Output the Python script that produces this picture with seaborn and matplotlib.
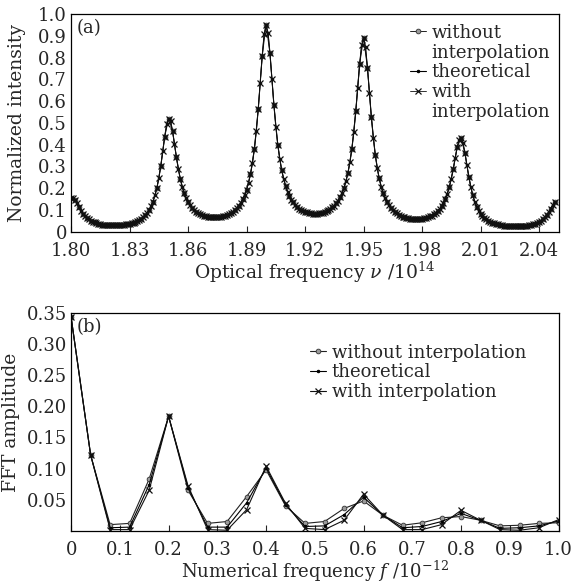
import numpy as np
import seaborn as sns
import matplotlib
matplotlib.use('Agg')
import matplotlib.pyplot as plt
from matplotlib.lines import Line2D

sns.set_style('ticks')
plt.rcParams['font.family'] = ['DejaVu Serif']
plt.rcParams['mathtext.fontset'] = 'dejavuserif'

# (a) intensidade normalizada, amostrada a cada 0.001 (x10^14) de 1.800 ate 2.048
seg1 = [0.155, 0.156, 0.147, 0.131, 0.114, 0.098, 0.084, 0.073, 0.064, 0.057,
        0.051, 0.046, 0.043, 0.040, 0.037, 0.035, 0.033, 0.032, 0.031, 0.030,
        0.030, 0.030, 0.030, 0.030, 0.030, 0.031, 0.031, 0.032, 0.034, 0.035,
        0.037, 0.040, 0.042, 0.046, 0.050, 0.054, 0.060, 0.067, 0.076, 0.087,
        0.100, 0.117, 0.139, 0.167, 0.202, 0.247, 0.303, 0.369, 0.437, 0.493]
seg2 = [0.520, 0.509, 0.464, 0.404, 0.343, 0.288, 0.243, 0.206, 0.177, 0.154,
        0.136, 0.121, 0.110, 0.100, 0.092, 0.086, 0.081, 0.077, 0.073, 0.071,
        0.069, 0.067, 0.067, 0.066, 0.066, 0.067, 0.068, 0.069, 0.071, 0.074,
        0.077, 0.082, 0.087, 0.093, 0.100, 0.109, 0.120, 0.133, 0.149, 0.169,
        0.194, 0.225, 0.265, 0.316, 0.381, 0.464, 0.566, 0.684, 0.806, 0.906]
seg3 = [0.950, 0.913, 0.819, 0.700, 0.584, 0.483, 0.400, 0.335, 0.283, 0.243,
        0.211, 0.185, 0.165, 0.148, 0.135, 0.123, 0.114, 0.107, 0.101, 0.096,
        0.092, 0.089, 0.087, 0.085, 0.084, 0.084, 0.084, 0.085, 0.086, 0.088,
        0.091, 0.095, 0.099, 0.105, 0.112, 0.120, 0.131, 0.143, 0.159, 0.178,
        0.202, 0.233, 0.271, 0.319, 0.381, 0.458, 0.553, 0.661, 0.771, 0.857]
seg4 = [0.890, 0.847, 0.753, 0.638, 0.527, 0.432, 0.354, 0.293, 0.246, 0.208,
        0.179, 0.156, 0.137, 0.122, 0.110, 0.100, 0.091, 0.085, 0.079, 0.074,
        0.070, 0.067, 0.065, 0.063, 0.061, 0.060, 0.059, 0.059, 0.059, 0.060,
        0.061, 0.063, 0.065, 0.068, 0.071, 0.075, 0.081, 0.087, 0.095, 0.105,
        0.117, 0.132, 0.152, 0.176, 0.206, 0.244, 0.288, 0.339, 0.388, 0.423]
seg5 = [0.430, 0.408, 0.362, 0.306, 0.252, 0.206, 0.168, 0.139, 0.116, 0.098,
        0.084, 0.073, 0.064, 0.057, 0.051, 0.046, 0.042, 0.039, 0.036, 0.034,
        0.032, 0.030, 0.029, 0.028, 0.027, 0.026, 0.026, 0.026, 0.026, 0.026,
        0.026, 0.027, 0.027, 0.028, 0.029, 0.031, 0.033, 0.035, 0.038, 0.042,
        0.046, 0.052, 0.059, 0.067, 0.078, 0.091, 0.107, 0.123, 0.139]
intensidade = seg1 + seg2 + seg3 + seg4 + seg5
nu = np.round(1.800 + 0.001 * np.arange(len(intensidade)), 3)

# (b) amplitude FFT
f_num = [0.00, 0.04, 0.08, 0.12, 0.16, 0.20, 0.24, 0.28, 0.32, 0.36, 0.40, 0.44, 0.48,
         0.52, 0.56, 0.60, 0.64, 0.68, 0.72, 0.76, 0.80, 0.84, 0.88, 0.92, 0.96, 1.00]
sem_interp = [0.343, 0.122, 0.010, 0.012, 0.083, 0.184, 0.065, 0.012, 0.015, 0.055, 0.098, 0.040, 0.012,
              0.015, 0.036, 0.048, 0.025, 0.009, 0.013, 0.021, 0.023, 0.017, 0.008, 0.009, 0.012, 0.013]
teorico = [0.343, 0.122, 0.005, 0.006, 0.074, 0.184, 0.069, 0.006, 0.006, 0.045, 0.101, 0.042, 0.007,
           0.008, 0.026, 0.054, 0.025, 0.005, 0.007, 0.015, 0.028, 0.017, 0.004, 0.005, 0.008, 0.016]
com_interp = [0.343, 0.122, 0.002, 0.002, 0.065, 0.184, 0.072, 0.002, 0.001, 0.034, 0.104, 0.044, 0.004,
              0.002, 0.017, 0.059, 0.025, 0.002, 0.002, 0.010, 0.033, 0.017, 0.002, 0.001, 0.005, 0.018]

rotulos = ['without interpolation', 'theoretical', 'with interpolation']

fig = plt.figure(figsize=(5.83, 5.84), dpi=100)
ax1 = fig.add_axes([0.122, 0.603, 0.836, 0.373])
ax2 = fig.add_axes([0.122, 0.091, 0.836, 0.373])

estilo_o = dict(marker='o', markersize=3.4, markerfacecolor='#9a9a9a', markeredgecolor='#333333', markeredgewidth=0.6)
estilo_p = dict(marker='.', markersize=3.5, markerfacecolor='black', markeredgecolor='black')
estilo_x = dict(marker='x', markersize=5.0, markeredgecolor='#111111', markeredgewidth=0.9)

# painel (a)
sns.lineplot(x=nu[::2], y=intensidade[::2], ax=ax1, color='#222222', linewidth=0.7, label=rotulos[0], **estilo_o)
sns.lineplot(x=nu, y=intensidade, ax=ax1, color='black', linewidth=0.8, label=rotulos[1], **estilo_p)
sns.lineplot(x=nu, y=intensidade, ax=ax1, color='#111111', linewidth=0.6, label=rotulos[2], **estilo_x)
ax1.set_xlim(1.80, 2.05)
ax1.set_ylim(0, 1.0)
ax1.set_xticks([1.80, 1.83, 1.86, 1.89, 1.92, 1.95, 1.98, 2.01, 2.04])
ax1.set_xticklabels(['1.80', '1.83', '1.86', '1.89', '1.92', '1.95', '1.98', '2.01', '2.04'])
ax1.set_yticks(np.round(np.arange(0, 1.01, 0.1), 1))
ax1.set_yticklabels(['0'] + ['%.1f' % v for v in np.arange(0.1, 1.01, 0.1)])
ax1.set_xlabel(r'Optical frequency $\nu$ /10$^{14}$', fontsize=13.5, labelpad=0)
ax1.set_ylabel('Normalized intensity', fontsize=13.5, labelpad=9)
ax1.text(0.012, 0.975, '(a)', transform=ax1.transAxes, fontsize=13, va='top', ha='left')

# legenda (a): rotulo em duas linhas, simbolo alinhado com a primeira
h, l = ax1.get_legend_handles_labels()
vazio = Line2D([], [], linestyle='none', marker=None)
ax1.legend([h[0], vazio, h[1], h[2], vazio],
           ['without', 'interpolation', 'theoretical', 'with', 'interpolation'],
           loc='upper left', bbox_to_anchor=(0.695, 0.955), frameon=False, fontsize=13,
           handlelength=0.9, handletextpad=0.3, borderaxespad=0, borderpad=0,
           labelspacing=0.1)

# painel (b)
sns.lineplot(x=f_num, y=sem_interp, ax=ax2, color='#222222', linewidth=0.8, label=rotulos[0], **estilo_o)
sns.lineplot(x=f_num, y=teorico, ax=ax2, color='black', linewidth=0.8, label=rotulos[1], **estilo_p)
sns.lineplot(x=f_num, y=com_interp, ax=ax2, color='#111111', linewidth=0.8, label=rotulos[2], **estilo_x)
ax2.set_xlim(0, 1.0)
ax2.set_ylim(0, 0.35)
ax2.set_xticks(np.round(np.arange(0, 1.01, 0.1), 1))
ax2.set_xticklabels(['0'] + ['%.1f' % v for v in np.arange(0.1, 1.01, 0.1)])
ax2.set_yticks([0.05, 0.10, 0.15, 0.20, 0.25, 0.30, 0.35])
ax2.set_yticklabels(['0.05', '0.10', '0.15', '0.20', '0.25', '0.30', '0.35'])
ax2.set_xlabel(r'Numerical frequency $f$ /10$^{-12}$', fontsize=13, labelpad=0)
ax2.set_ylabel('FFT amplitude', fontsize=13.5, labelpad=5)
ax2.text(0.012, 0.975, '(b)', transform=ax2.transAxes, fontsize=13, va='top', ha='left')
ax2.legend(loc='upper left', bbox_to_anchor=(0.49, 0.86), frameon=False, fontsize=13,
           handlelength=0.9, handletextpad=0.3, borderaxespad=0, borderpad=0,
           labelspacing=0.1)

for ax in (ax1, ax2):
    ax.tick_params(axis='x', direction='in', length=4, width=0.8, labelsize=13, pad=7)
    ax.tick_params(axis='y', direction='in', length=0, labelsize=13, pad=3)
    for s in ax.spines.values():
        s.set_linewidth(0.9)
        s.set_color('black')

fig.savefig('out.png', dpi=100)
